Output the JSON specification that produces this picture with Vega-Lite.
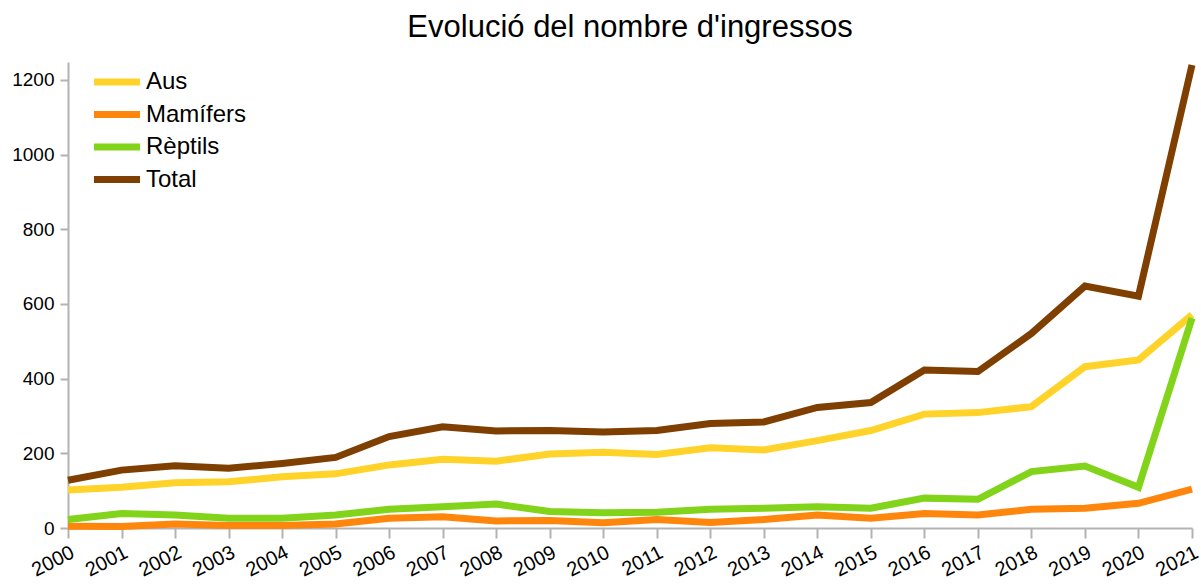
{
  "$schema": "https://vega.github.io/schema/vega-lite/v6.json",
  "width": 1124,
  "height": 466,
  "autosize": {"type": "none"},
  "padding": {"left": 68, "top": 62, "right": 9, "bottom": 59},
  "background": "white",
  "title": {
    "text": "Evolució del nombre d'ingressos",
    "font": "Liberation Sans",
    "fontSize": 31,
    "fontWeight": "normal",
    "color": "#000000",
    "anchor": "middle",
    "baseline": "bottom",
    "offset": 14,
    "dy": 38
  },
  "config": {
    "view": {"stroke": null},
    "font": "Liberation Sans"
  },
  "data": {
    "values": [
      {"year": "2000", "serie": "Aus", "value": 102},
      {"year": "2001", "serie": "Aus", "value": 109},
      {"year": "2002", "serie": "Aus", "value": 121},
      {"year": "2003", "serie": "Aus", "value": 124},
      {"year": "2004", "serie": "Aus", "value": 137},
      {"year": "2005", "serie": "Aus", "value": 145},
      {"year": "2006", "serie": "Aus", "value": 169},
      {"year": "2007", "serie": "Aus", "value": 184},
      {"year": "2008", "serie": "Aus", "value": 179},
      {"year": "2009", "serie": "Aus", "value": 198},
      {"year": "2010", "serie": "Aus", "value": 203},
      {"year": "2011", "serie": "Aus", "value": 197},
      {"year": "2012", "serie": "Aus", "value": 215},
      {"year": "2013", "serie": "Aus", "value": 209},
      {"year": "2014", "serie": "Aus", "value": 234},
      {"year": "2015", "serie": "Aus", "value": 261},
      {"year": "2016", "serie": "Aus", "value": 305},
      {"year": "2017", "serie": "Aus", "value": 309},
      {"year": "2018", "serie": "Aus", "value": 325},
      {"year": "2019", "serie": "Aus", "value": 432},
      {"year": "2020", "serie": "Aus", "value": 450},
      {"year": "2021", "serie": "Aus", "value": 571},
      {"year": "2000", "serie": "Mamífers", "value": 5},
      {"year": "2001", "serie": "Mamífers", "value": 4},
      {"year": "2002", "serie": "Mamífers", "value": 11},
      {"year": "2003", "serie": "Mamífers", "value": 7},
      {"year": "2004", "serie": "Mamífers", "value": 7},
      {"year": "2005", "serie": "Mamífers", "value": 11},
      {"year": "2006", "serie": "Mamífers", "value": 26},
      {"year": "2007", "serie": "Mamífers", "value": 30},
      {"year": "2008", "serie": "Mamífers", "value": 19},
      {"year": "2009", "serie": "Mamífers", "value": 20},
      {"year": "2010", "serie": "Mamífers", "value": 14},
      {"year": "2011", "serie": "Mamífers", "value": 23},
      {"year": "2012", "serie": "Mamífers", "value": 15},
      {"year": "2013", "serie": "Mamífers", "value": 23},
      {"year": "2014", "serie": "Mamífers", "value": 35},
      {"year": "2015", "serie": "Mamífers", "value": 26},
      {"year": "2016", "serie": "Mamífers", "value": 39},
      {"year": "2017", "serie": "Mamífers", "value": 35},
      {"year": "2018", "serie": "Mamífers", "value": 50},
      {"year": "2019", "serie": "Mamífers", "value": 53},
      {"year": "2020", "serie": "Mamífers", "value": 66},
      {"year": "2021", "serie": "Mamífers", "value": 104},
      {"year": "2000", "serie": "Rèptils", "value": 23},
      {"year": "2001", "serie": "Rèptils", "value": 39},
      {"year": "2002", "serie": "Rèptils", "value": 35},
      {"year": "2003", "serie": "Rèptils", "value": 26},
      {"year": "2004", "serie": "Rèptils", "value": 26},
      {"year": "2005", "serie": "Rèptils", "value": 35},
      {"year": "2006", "serie": "Rèptils", "value": 50},
      {"year": "2007", "serie": "Rèptils", "value": 57},
      {"year": "2008", "serie": "Rèptils", "value": 64},
      {"year": "2009", "serie": "Rèptils", "value": 44},
      {"year": "2010", "serie": "Rèptils", "value": 41},
      {"year": "2011", "serie": "Rèptils", "value": 42},
      {"year": "2012", "serie": "Rèptils", "value": 50},
      {"year": "2013", "serie": "Rèptils", "value": 53},
      {"year": "2014", "serie": "Rèptils", "value": 57},
      {"year": "2015", "serie": "Rèptils", "value": 53},
      {"year": "2016", "serie": "Rèptils", "value": 80},
      {"year": "2017", "serie": "Rèptils", "value": 77},
      {"year": "2018", "serie": "Rèptils", "value": 151},
      {"year": "2019", "serie": "Rèptils", "value": 166},
      {"year": "2020", "serie": "Rèptils", "value": 109},
      {"year": "2021", "serie": "Rèptils", "value": 562},
      {"year": "2000", "serie": "Total", "value": 128},
      {"year": "2001", "serie": "Total", "value": 155},
      {"year": "2002", "serie": "Total", "value": 167},
      {"year": "2003", "serie": "Total", "value": 160},
      {"year": "2004", "serie": "Total", "value": 173},
      {"year": "2005", "serie": "Total", "value": 189},
      {"year": "2006", "serie": "Total", "value": 245},
      {"year": "2007", "serie": "Total", "value": 271},
      {"year": "2008", "serie": "Total", "value": 260},
      {"year": "2009", "serie": "Total", "value": 261},
      {"year": "2010", "serie": "Total", "value": 257},
      {"year": "2011", "serie": "Total", "value": 261},
      {"year": "2012", "serie": "Total", "value": 280},
      {"year": "2013", "serie": "Total", "value": 284},
      {"year": "2014", "serie": "Total", "value": 323},
      {"year": "2015", "serie": "Total", "value": 336},
      {"year": "2016", "serie": "Total", "value": 423},
      {"year": "2017", "serie": "Total", "value": 419},
      {"year": "2018", "serie": "Total", "value": 521},
      {"year": "2019", "serie": "Total", "value": 648},
      {"year": "2020", "serie": "Total", "value": 621},
      {"year": "2021", "serie": "Total", "value": 1240}
    ]
  },
  "mark": {"type": "line", "strokeWidth": 7, "strokeJoin": "miter", "strokeCap": "butt"},
  "encoding": {
    "x": {
      "field": "year",
      "type": "ordinal",
      "scale": {"type": "point", "padding": 0},
      "axis": {
        "title": null,
        "labelAngle": -27,
        "labelFontSize": 20,
        "labelColor": "#000000",
        "labelFont": "Liberation Sans",
        "domainColor": "#b3b3b3",
        "domainWidth": 2,
        "tickColor": "#b3b3b3",
        "tickWidth": 2,
        "tickSize": 10,
        "labelPadding": 4,
        "grid": false
      }
    },
    "y": {
      "field": "value",
      "type": "quantitative",
      "scale": {"domain": [0, 1248], "nice": false},
      "axis": {
        "title": null,
        "values": [0, 200, 400, 600, 800, 1000, 1200],
        "format": "d",
        "labelFontSize": 19,
        "labelColor": "#000000",
        "labelFont": "Liberation Sans",
        "domainColor": "#b3b3b3",
        "domainWidth": 2,
        "tickColor": "#b3b3b3",
        "tickWidth": 2,
        "tickSize": 8,
        "labelPadding": 6,
        "grid": false
      }
    },
    "color": {
      "field": "serie",
      "type": "nominal",
      "scale": {
        "domain": ["Aus", "Mamífers", "Rèptils", "Total"],
        "range": ["#ffd32a", "#ff860d", "#81d41a", "#7f3f00"]
      },
      "legend": {
        "title": null,
        "orient": "none",
        "legendX": 34,
        "legendY": 5,
        "symbolType": "M-2,0L2,0",
        "symbolSize": 529,
        "symbolStrokeWidth": 7,
        "labelFontSize": 24,
        "labelFont": "Liberation Sans",
        "labelColor": "#000000",
        "labelOffset": 14,
        "rowPadding": 3.5,
        "padding": 0
      }
    }
  }
}
